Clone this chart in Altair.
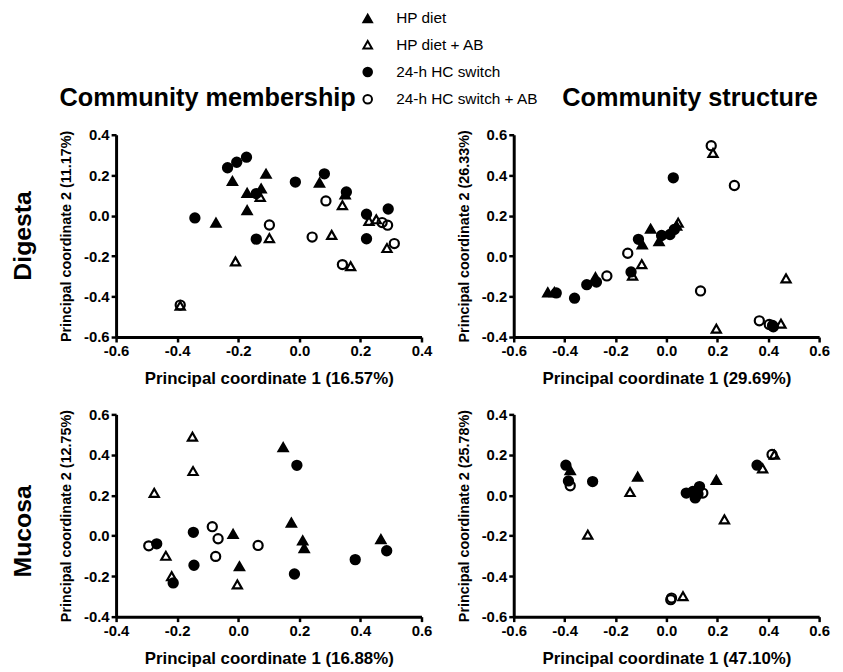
import altair as alt
import pandas as pd

GROUPS = ["HP diet", "HP diet + AB", "24-h HC switch", "24-h HC switch + AB"]
SHAPES = ["triangle-up", "triangle-up", "circle", "circle"]
FILLS = ["black", "transparent", "black", "transparent"]
STROKES = ["black", "black", "black", "black"]

COL_TITLES = ["Community membership", "Community structure"]
ROW_LABELS = ["Digesta", "Mucosa"]

# ---- Panel 1: Digesta, community membership
P1_HP_X = [-0.219, -0.109, 0.066, -0.171, -0.125, -0.171, -0.273, 0.150]
P1_HP_Y = [0.171, 0.207, 0.163, 0.112, 0.134, 0.027, -0.035, 0.105]
P1_HPAB_X = [-0.128, 0.141, -0.098, 0.106, -0.209, 0.168, 0.228, 0.252, 0.287, -0.390]
P1_HPAB_Y = [0.093, 0.052, -0.111, -0.095, -0.226, -0.250, -0.026, -0.018, -0.160, -0.445]
P1_HC_X = [-0.235, -0.205, -0.173, -0.013, 0.082, 0.154, -0.141, -0.342, -0.141, 0.220, 0.291, 0.220]
P1_HC_Y = [0.237, 0.264, 0.289, 0.166, 0.207, 0.117, 0.109, -0.011, -0.116, 0.007, 0.033, -0.114]
P1_HCAB_X = [0.087, -0.098, 0.042, 0.141, 0.271, 0.289, 0.311, -0.390]
P1_HCAB_Y = [0.073, -0.046, -0.106, -0.242, -0.034, -0.047, -0.138, -0.442]

# ---- Panel 2: Digesta, community structure
P2_HP_X = [-0.062, -0.095, -0.029, -0.279, -0.466, 0.040, -0.440]
P2_HP_Y = [0.135, 0.058, 0.074, -0.104, -0.179, 0.150, -0.178]
P2_HPAB_X = [0.183, 0.046, -0.097, -0.133, 0.470, 0.196, 0.450]
P2_HPAB_Y = [0.510, 0.165, -0.040, -0.097, -0.110, -0.359, -0.334]
P2_HC_X = [0.027, -0.110, -0.019, 0.014, 0.031, -0.139, -0.433, -0.361, -0.313, -0.275, 0.417]
P2_HC_Y = [0.387, 0.083, 0.102, 0.107, 0.132, -0.078, -0.182, -0.208, -0.141, -0.128, -0.343]
P2_HCAB_X = [0.176, 0.267, -0.152, -0.234, 0.134, 0.365, 0.404, 0.420]
P2_HCAB_Y = [0.546, 0.349, 0.014, -0.098, -0.172, -0.320, -0.338, -0.349]

# ---- Panel 3: Mucosa, community membership
P3_HP_X = [0.147, 0.174, -0.017, 0.004, 0.211, 0.216, 0.467]
P3_HP_Y = [0.438, 0.065, 0.009, -0.151, -0.023, -0.061, -0.017]
P3_HPAB_X = [-0.150, -0.148, -0.275, -0.237, -0.218, -0.003]
P3_HPAB_Y = [0.490, 0.320, 0.212, -0.099, -0.200, -0.241]
P3_HC_X = [-0.267, -0.147, -0.145, -0.213, 0.192, 0.184, 0.383, 0.486]
P3_HC_Y = [-0.040, 0.017, -0.146, -0.233, 0.348, -0.189, -0.118, -0.074]
P3_HCAB_X = [-0.293, -0.085, -0.066, -0.074, 0.065]
P3_HCAB_Y = [-0.050, 0.045, -0.015, -0.102, -0.048]

# ---- Panel 4: Mucosa, community structure
P4_HP_X = [-0.378, -0.113, 0.196]
P4_HP_Y = [0.124, 0.092, 0.076]
P4_HPAB_X = [-0.143, -0.309, 0.228, 0.378, 0.424, 0.065]
P4_HPAB_Y = [0.016, -0.195, -0.119, 0.133, 0.201, -0.499]
P4_HC_X = [-0.395, -0.385, -0.290, 0.356, 0.078, 0.104, 0.113, 0.130, 0.124]
P4_HC_Y = [0.149, 0.071, 0.068, 0.149, 0.011, 0.019, -0.013, 0.043, 0.006]
P4_HCAB_X = [-0.378, 0.017, 0.020, 0.415, 0.143]
P4_HCAB_Y = [0.047, -0.516, -0.508, 0.202, 0.011]

# axis titles
P1_XT, P1_YT = "Principal coordinate 1 (16.57%)", "Principal coordinate 2 (11.17%)"
P2_XT, P2_YT = "Principal coordinate 1 (29.69%)", "Principal coordinate 2 (26.33%)"
P3_XT, P3_YT = "Principal coordinate 1 (16.88%)", "Principal coordinate 2 (12.75%)"
P4_XT, P4_YT = "Principal coordinate 1 (47.10%)", "Principal coordinate 2 (25.78%)"

# tick values / domains
P1_XTICKS = [-0.6, -0.4, -0.2, 0.0, 0.2, 0.4]
P1_YTICKS = [-0.6, -0.4, -0.2, 0.0, 0.2, 0.4]
P2_XTICKS = [-0.6, -0.4, -0.2, 0.0, 0.2, 0.4, 0.6]
P2_YTICKS = [-0.4, -0.2, 0.0, 0.2, 0.4, 0.6]
P3_XTICKS = [-0.4, -0.2, 0.0, 0.2, 0.4, 0.6]
P3_YTICKS = [-0.4, -0.2, 0.0, 0.2, 0.4, 0.6]
P4_XTICKS = [-0.6, -0.4, -0.2, 0.0, 0.2, 0.4, 0.6]
P4_YTICKS = [-0.6, -0.4, -0.2, 0.0, 0.2, 0.4]

FONT = "Liberation Sans"
W, H = 308, 204
LABEL_EXPR = "replace(format(datum.value, '.1f'), '\u2212', '-')"


def make_df(series):
    rows = []
    for g, xs, ys in zip(GROUPS, series[0::2], series[1::2]):
        for x, y in zip(xs, ys):
            rows.append({"group": g, "x": x, "y": y})
    return pd.DataFrame(rows)


LEGEND = alt.Legend(
    orient="none", legendX=246, legendY=-125, title=None,
    labelFont=FONT, labelFontSize=15.5, labelColor="black",
    symbolSize=75, symbolStrokeWidth=2, symbolStrokeColor="black",
    symbolOpacity=1, rowPadding=9.5, labelOffset=21,
)


def panel(series, xticks, yticks, xt, yt, title=None, rowlabel=None, rowy=102):
    df = make_df(series)
    pts = alt.Chart(df).mark_point(
        filled=False, strokeWidth=2.2, opacity=1, size=85
    ).encode(
        x=alt.X("x:Q", scale=alt.Scale(domain=[xticks[0], xticks[-1]], nice=False, zero=False),
                axis=alt.Axis(title=xt, values=xticks, labelExpr=LABEL_EXPR)),
        y=alt.Y("y:Q", scale=alt.Scale(domain=[yticks[0], yticks[-1]], nice=False, zero=False),
                axis=alt.Axis(title=yt, values=yticks, labelExpr=LABEL_EXPR)),
        shape=alt.Shape("group:N", scale=alt.Scale(domain=GROUPS, range=SHAPES), legend=LEGEND),
        fill=alt.Fill("group:N", scale=alt.Scale(domain=GROUPS, range=FILLS), legend=LEGEND),
        stroke=alt.Stroke("group:N", scale=alt.Scale(domain=GROUPS, range=STROKES), legend=LEGEND),
    )
    ch = pts
    if rowlabel is not None:
        txt = alt.Chart(pd.DataFrame({"label": [rowlabel]})).mark_text(
            angle=270, fontSize=25, fontWeight="bold", font=FONT, color="black",
            align="center", baseline="middle"
        ).encode(text="label:N", x=alt.value(-94), y=alt.value(rowy))
        ch = alt.layer(pts, txt)
    props = dict(width=W, height=H)
    if title is not None:
        props["title"] = title
    return ch.properties(**props)


def col_title(text, dx):
    return alt.TitleParams(
        text=text, anchor="start", frame="group", dx=dx, offset=-9,
        fontSize=25.5, font=FONT, fontWeight="bold", color="black", baseline="bottom",
    )


p1 = panel([P1_HP_X, P1_HP_Y, P1_HPAB_X, P1_HPAB_Y, P1_HC_X, P1_HC_Y, P1_HCAB_X, P1_HCAB_Y],
           P1_XTICKS, P1_YTICKS, P1_XT, P1_YT, title=col_title(COL_TITLES[0], -57),
           rowlabel=ROW_LABELS[0], rowy=102)
p2 = panel([P2_HP_X, P2_HP_Y, P2_HPAB_X, P2_HPAB_Y, P2_HC_X, P2_HC_Y, P2_HCAB_X, P2_HCAB_Y],
           P2_XTICKS, P2_YTICKS, P2_XT, P2_YT, title=col_title(COL_TITLES[1], 49))
p3 = panel([P3_HP_X, P3_HP_Y, P3_HPAB_X, P3_HPAB_Y, P3_HC_X, P3_HC_Y, P3_HCAB_X, P3_HCAB_Y],
           P3_XTICKS, P3_YTICKS, P3_XT, P3_YT, rowlabel=ROW_LABELS[1], rowy=118)
p4 = panel([P4_HP_X, P4_HP_Y, P4_HPAB_X, P4_HPAB_Y, P4_HC_X, P4_HC_Y, P4_HCAB_X, P4_HCAB_Y],
           P4_XTICKS, P4_YTICKS, P4_XT, P4_YT)

chart = alt.concat(
    p1, p2, p3, p4, columns=2, spacing={"row": 78, "column": 93}, bounds="flush"
).properties(
    padding={"left": 3, "top": 0, "right": 5, "bottom": 5}
).configure(
    font=FONT
).configure_view(
    stroke=None
).configure_axis(
    grid=False, domainColor="black", domainWidth=3, tickColor="black", tickWidth=2.5,
    tickSize=5, labelFont=FONT, labelFontSize=15, labelFontWeight="bold", labelColor="black",
    titleFont=FONT, titleFontWeight="bold", titleColor="black",
    labelPadding=2, labelFlush=False, labelOverlap=False
).configure_axisX(
    titlePadding=12, titleFontSize=17
).configure_axisY(
    titlePadding=10, titleFontSize=14.5
)

chart.save("out.html", embed_options={"renderer": "svg", "actions": False})
